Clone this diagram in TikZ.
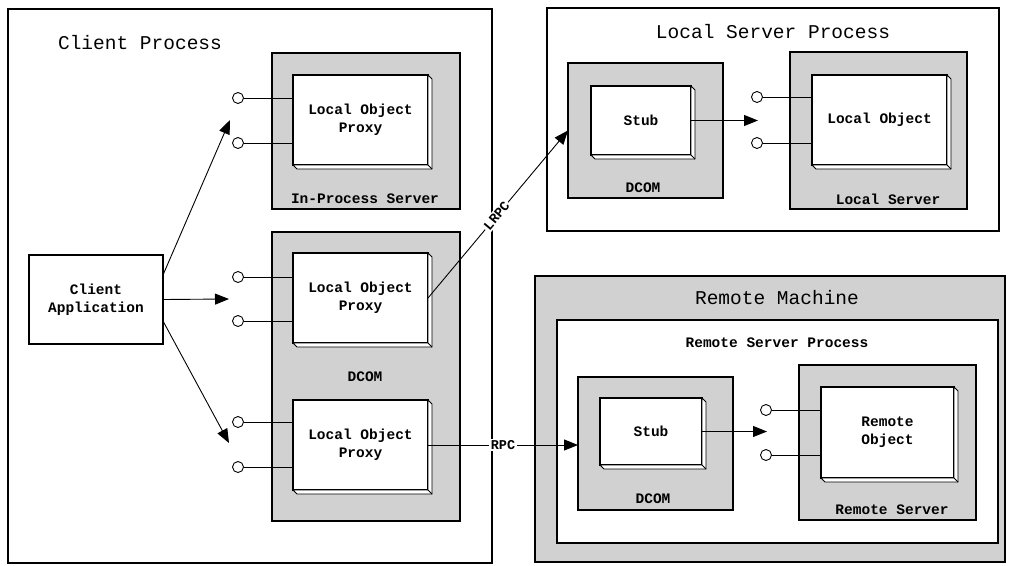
\documentclass[tikz,border=0pt]{standalone}
\usepackage{fontspec}
\setmonofont{Liberation Mono}
\usetikzlibrary{calc,arrows.meta}
\newcommand{\slab}[1]{\draw[slabline] (#1.north east) -- ++(4,4) -- ($(#1.south east)+(4,4)$) -- ($(#1.south west)+(4,4)$) -- (#1.south west) -- (#1.south east) -- cycle;
  \draw[slabline] (#1.south east) -- ++(4,4);}
\begin{document}
\begin{tikzpicture}[x=1pt,y=-1pt,
  box/.style={draw, line width=1.1pt, inner sep=0pt, outer sep=0pt, align=center},
  plain/.style={box, fill=white},
  shade/.style={box, fill=black!18},
  obj/.style={box, fill=white, font=\ttfamily\bfseries\fontsize{14.5}{18}\selectfont},
  slabline/.style={draw, line width=0.9pt, fill=white},
  title/.style={font=\ttfamily\fontsize{19.5}{22}\selectfont, inner sep=1pt},
  lab/.style={font=\ttfamily\bfseries\fontsize{14.5}{17}\selectfont, inner sep=1pt},
  port/.style={circle, draw, line width=0.9pt, fill=white, minimum size=11pt, inner sep=0pt},
  plink/.style={line width=1pt},
  wire/.style={font=\ttfamily\bfseries\fontsize{13.5}{15}\selectfont, fill=white, inner sep=1.5pt},
  arr/.style={line width=0.9pt, -{Triangle[length=14pt,width=11pt]}}]
\useasboundingbox (0,0) rectangle (1009,565);

% Client process
\node[plain, minimum width=484pt, minimum height=554pt] (cp) at (250,286) {};
\node[title] (cpt) at (140,43) {Client Process};

\node[plain, minimum width=134pt, minimum height=89pt, font=\ttfamily\bfseries\fontsize{14.5}{18}\selectfont] (ca) at (96,299.5) {Client\\Application};

\node[shade, minimum width=188pt, minimum height=156pt] (ips) at (366,131) {};
\node[lab] (ipsl) at (365,199) {In-Process Server};
\node[obj, minimum width=135pt, minimum height=90pt] (lop1) at (360.5,120) {Local Object\\Proxy};
\slab{lop1}

\node[shade, minimum width=188pt, minimum height=289pt] (dc1) at (366,376.5) {};
\node[lab] (dc1l) at (365,377) {DCOM};
\node[obj, minimum width=135pt, minimum height=90pt] (lop2) at (360.5,298) {Local Object\\Proxy};
\slab{lop2}
\node[obj, minimum width=135pt, minimum height=90pt] (lop3) at (360.5,445) {Local Object\\Proxy};
\slab{lop3}

% ports client side
\node[port] (p1a) at (238,98) {};
\node[port] (p1b) at (238,143) {};
\node[port] (p2a) at (238,277) {};
\node[port] (p2b) at (238,321) {};
\node[port] (p3a) at (238,422) {};
\node[port] (p3b) at (238,467) {};
\foreach \p/\b in {p1a/lop1,p1b/lop1,p2a/lop2,p2b/lop2,p3a/lop3,p3b/lop3}
  \draw[plink] (\p.east) -- (\p.east -| \b.west);

% client arrows
\coordinate (t1) at (230,120);
\coordinate (t2) at (229,299);
\coordinate (t3) at (229,443);
\draw[arr] ($(ca.north east)+(0,20)$) -- (t1);
\draw[arr] (ca.east) -- (t2);
\draw[arr] ($(ca.north east)+(0,66)$) -- (t3);

% Local server process
\node[plain, minimum width=452pt, minimum height=223pt] (lsp) at (773,119.5) {};
\node[title] (lspt) at (773,32) {Local Server Process};
\node[shade, minimum width=155pt, minimum height=135pt] (dc2) at (645.5,130.5) {};
\node[lab] (dc2l) at (643,188) {DCOM};
\node[obj, minimum width=100pt, minimum height=69pt] (st1) at (641,120.5) {Stub};
\slab{st1}
\node[shade, minimum width=177pt, minimum height=157pt] (ls) at (878.5,130.5) {};
\node[lab] (lsl) at (888,199) {Local Server};
\node[obj, minimum width=135pt, minimum height=90pt] (lo) at (879.5,120) {Local Object};
\slab{lo}
\node[port] (p4a) at (757,97) {};
\node[port] (p4b) at (757,143) {};
\draw[plink] (p4a.east) -- (p4a.east -| lo.west);
\draw[plink] (p4b.east) -- (p4b.east -| lo.west);
\coordinate (t4) at (758,120.5);
\draw[arr] (st1.east) -- (t4);

% Remote machine
\node[shade, minimum width=470pt, minimum height=286pt] (rm) at (770,419) {};
\node[title] (rmt) at (777,298) {Remote Machine};
\node[plain, minimum width=441pt, minimum height=223pt] (rsp) at (777.5,431.5) {};
\node[lab] (rspt) at (777,343) {Remote Server Process};
\node[shade, minimum width=155pt, minimum height=133pt] (dc3) at (655.5,443.5) {};
\node[lab] (dc3l) at (653,499) {DCOM};
\node[obj, minimum width=102pt, minimum height=67pt] (st2) at (651,431.5) {Stub};
\slab{st2}
\node[shade, minimum width=177pt, minimum height=155pt] (rs) at (887.5,442.5) {};
\node[lab] (rsl) at (892,510) {Remote Server};
\node[obj, minimum width=133pt, minimum height=91pt] (ro) at (887.5,432.5) {Remote\\Object};
\slab{ro}
\node[port] (p5a) at (766,410) {};
\node[port] (p5b) at (766,455) {};
\draw[plink] (p5a.east) -- (p5a.east -| ro.west);
\draw[plink] (p5b.east) -- (p5b.east -| ro.west);
\coordinate (t5) at (767,431.5);
\draw[arr] (st2.east) -- (t5);

% LRPC and RPC
\draw[arr] (lop2.east) -- node[pos=0.49, rotate=50, wire] (lrpc) {LRPC} (dc2.west);
\draw[arr] (lop3.east) -- node[pos=0.5, wire] (rpc) {RPC} (lop3.east -| dc3.west);
\end{tikzpicture}
\end{document}
